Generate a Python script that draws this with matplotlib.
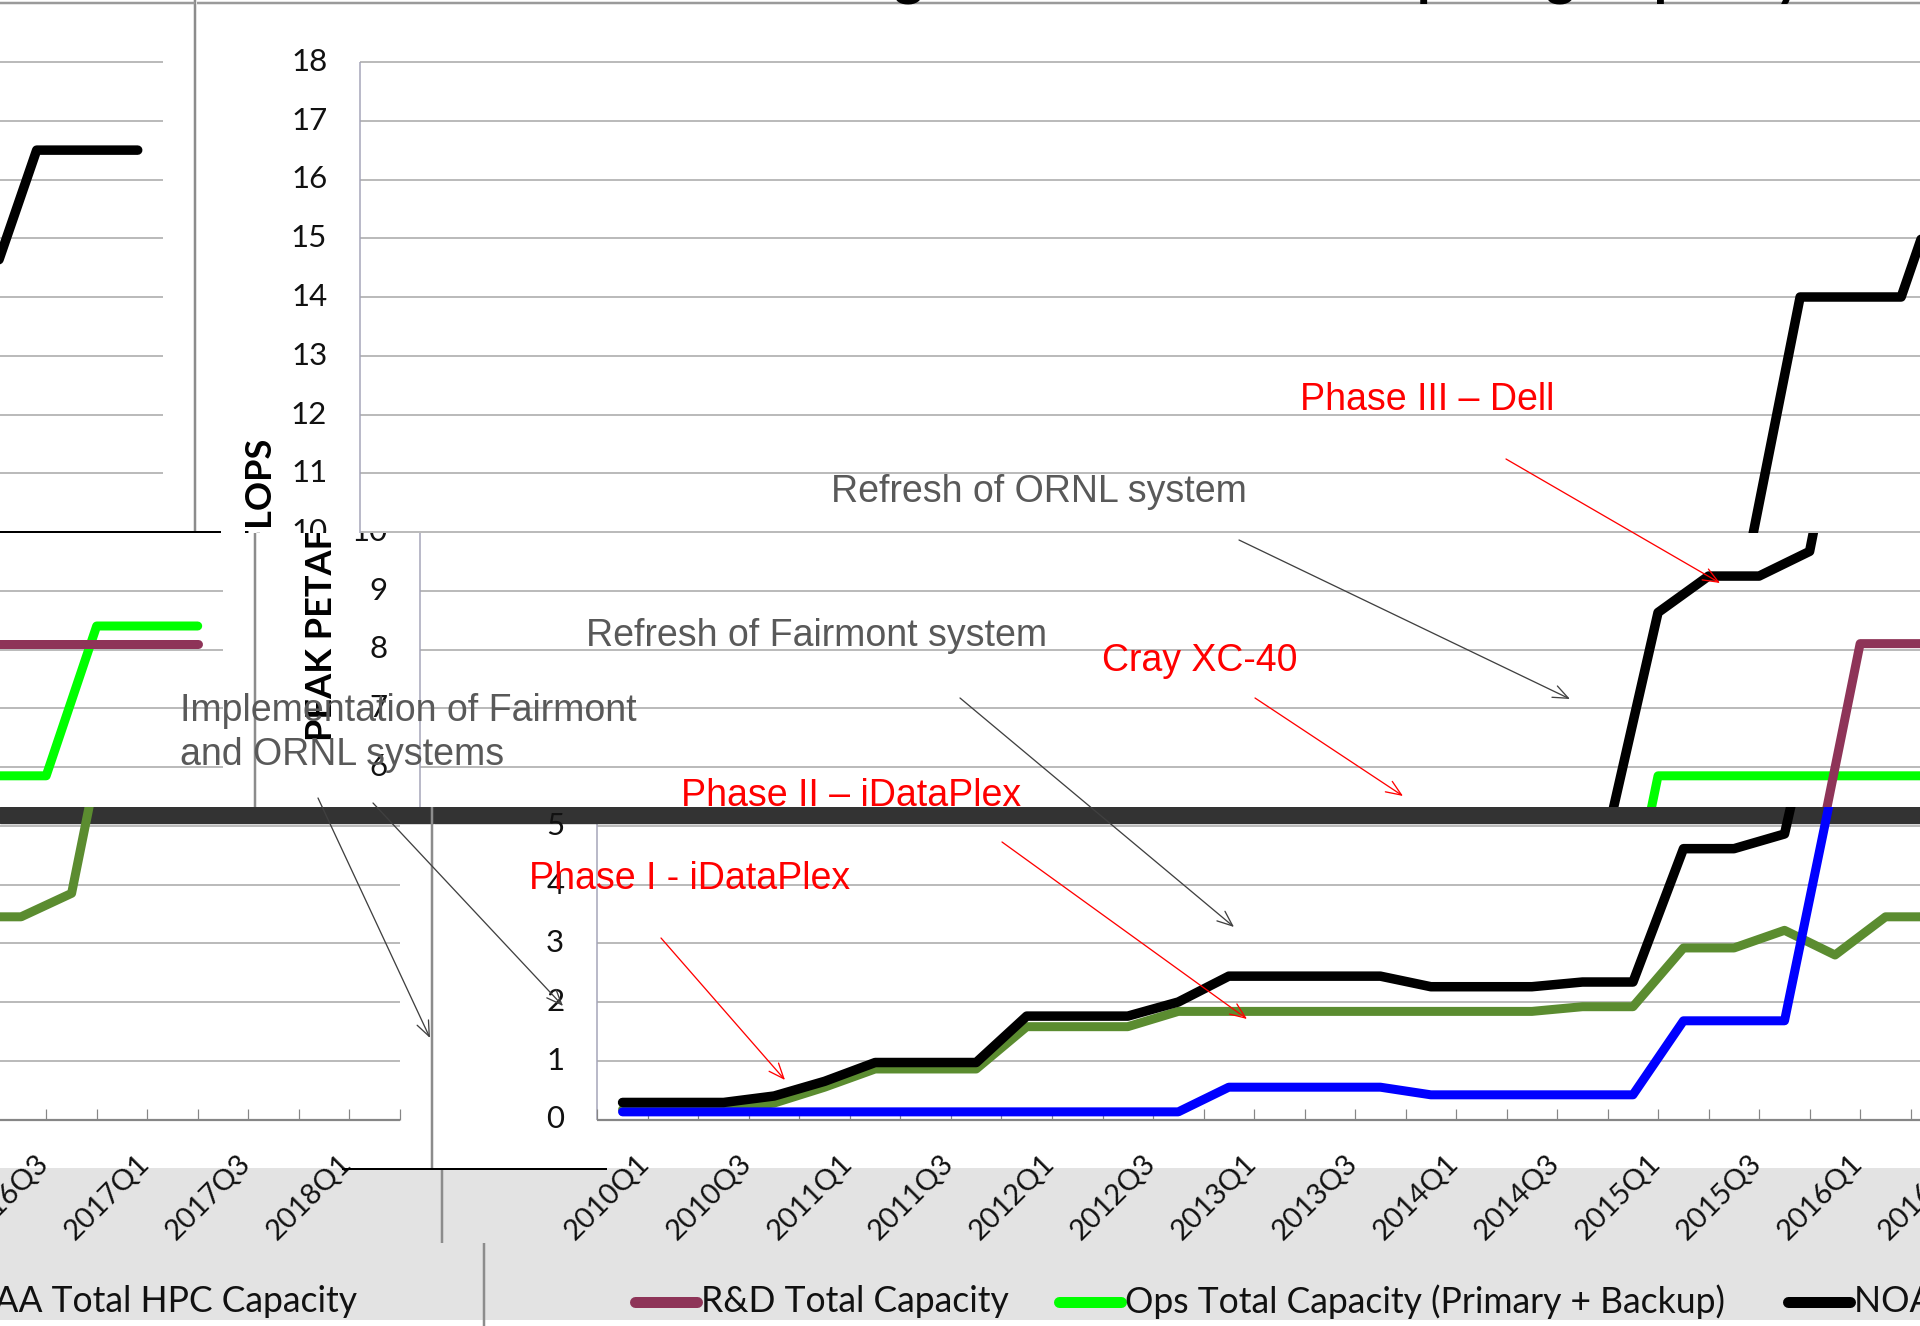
import matplotlib
matplotlib.use("Agg")
import matplotlib.pyplot as plt
from matplotlib.patches import Rectangle
import numpy as np

# quarterly capacity, peak petaflops
quarters = ["2010Q1", "2010Q2", "2010Q3", "2010Q4", "2011Q1", "2011Q2", "2011Q3", "2011Q4",
            "2012Q1", "2012Q2", "2012Q3", "2012Q4", "2013Q1", "2013Q2", "2013Q3", "2013Q4",
            "2014Q1", "2014Q2", "2014Q3", "2014Q4", "2015Q1", "2015Q2", "2015Q3", "2015Q4",
            "2016Q1", "2016Q2", "2016Q3", "2016Q4", "2017Q1", "2017Q2", "2017Q3", "2017Q4",
            "2018Q1", "2018Q2"]
noaa_total = [0.29, 0.29, 0.29, 0.40, 0.65, 0.97, 0.97, 0.97, 1.76, 1.76, 1.76, 2.00,
              2.44, 2.44, 2.44, 2.44, 2.26, 2.26, 2.26, 2.34, 2.34, 4.61, 4.61, 4.86,
              8.63, 9.25, 9.25, 9.67, 14.0, 14.0, 14.0, 16.5, 16.5, 16.5]
rd_total = [0.17, 0.17, 0.17, 0.28, 0.55, 0.86, 0.86, 0.86, 1.58, 1.58, 1.58, 1.84,
            1.84, 1.84, 1.84, 1.84, 1.84, 1.84, 1.84, 1.92, 1.92, 2.92, 2.92, 3.22,
            2.80, 3.45, 3.45, 3.85, 8.10, 8.10, 8.10, 8.10, 8.10, 8.10]
ops_total = [0.13, 0.13, 0.13, 0.13, 0.13, 0.13, 0.13, 0.13, 0.13, 0.13, 0.13, 0.13,
             0.55, 0.55, 0.55, 0.55, 0.42, 0.42, 0.42, 0.42, 0.42, 1.68, 1.68, 1.68,
             5.85, 5.85, 5.85, 5.85, 5.85, 5.85, 5.85, 8.40, 8.40, 8.40]
legend_labels = ["R&D Total Capacity", "Ops Total Capacity (Primary + Backup)",
                 "NOAA Total HPC Capacity"]

# pixel layout of the (broken, wrapped) screenshot
W, H = 1920, 1326
PX = 72 / 100            # points per pixel
STEP = 50.52             # px per quarter
N = len(quarters)
PLOT_W = N * STEP
WRAP = 1915              # rows wrap around by this many px
ZERO_Y = 1119.5
UNIT = 58.75             # px per petaflop
FONT = ["Lato", "DejaVu Sans"]

fig = plt.figure(figsize=(19.2, 13.26), dpi=100)
fig.patch.set_facecolor("white")


def q_at(x, pl):
    return (x - pl) / STEP - 0.5


def v_at(y):
    return (ZERO_Y - y) / UNIT


def piece(x0, x1, y0, y1, pl):
    x0 = max(x0, 0)
    ax = fig.add_axes([x0 / W, 1 - y1 / H, (x1 - x0) / W, (y1 - y0) / H])
    ax.set_xlim(q_at(x0, pl), q_at(x1, pl))
    ax.set_ylim(v_at(y1), v_at(y0))
    ax.axis("off")
    return ax


def copies(pl):
    # the main copy and the wrapped-around copy on the left
    split = pl - WRAP + PLOT_W + 34
    return [(split, W, pl), (0, split, pl - WRAP)]


def border(ax, pl):
    ax.axvline(q_at(pl + PLOT_W + 32, pl), color="#8c8c8c", lw=2.5 * PX, zorder=2)


def draw_chart(ax, pl, colors, order, strip=False):
    x = np.arange(N)
    data = {"rd": rd_total, "ops": ops_total, "noaa": noaa_total}
    if strip:
        ax.axhspan(v_at(823), v_at(807), color="#333333", zorder=1)
    ax.hlines(np.arange(1, 19), -0.5, N - 0.5, color="#b8b8b8", lw=1.9 * PX, zorder=0.5)
    ax.vlines(-0.5, 0, 18, color="#a4a4b8", lw=1.5 * PX, zorder=0.6)
    ax.hlines(0, -0.5, N - 0.5, color="#868686", lw=2.2 * PX, zorder=0.6)
    ax.vlines(np.arange(N + 1) - 0.5, 0, 11 / UNIT, color="#868686", lw=1.2 * PX, zorder=0.6)
    border(ax, pl)
    for i, key in enumerate(order):
        lw = 9.5 if key == "noaa" else 9
        ax.plot(x, data[key], color=colors[key], lw=lw * PX, solid_joinstyle="round",
                solid_capstyle="round", zorder=3 + i)
    for t in range(19):
        ax.text(q_at(pl - 33, pl), t, str(t), ha="right", va="center", fontsize=22.5,
                family=FONT, color="#111111", clip_on=True)
    ax.text(q_at(pl - 99, pl), v_at(590), "PEAK PETAFLOPS", rotation=90, ha="center",
            va="center", fontsize=26, fontweight="bold", family=FONT, clip_on=True)


upper_colors = {"rd": "#8E3458", "ops": "#00FF00", "noaa": "black"}
lower_colors = {"rd": "#5B8C30", "ops": "#0000FF", "noaa": "black"}

# gray strip behind tick labels and legend
fig.patches.append(Rectangle((0, 6 / H), 1, (1320 - 1168) / H, transform=fig.transFigure,
                             facecolor="#e3e3e3", edgecolor="none", zorder=-1))

# top band
for x0, x1, pl in copies(360.3):
    ax = piece(x0, x1, 0, 533, pl)
    draw_chart(ax, pl, upper_colors, ["ops", "rd", "noaa"])
    ax.hlines(v_at(3), q_at(pl - 165, pl), q_at(pl + PLOT_W + 32, pl), color="#9a9a9a",
              lw=2.5 * PX, zorder=2)
    ax.text(q_at(pl + 299, pl), v_at(-6), "NOAA High Performance Computing Capacity",
            ha="left", va="baseline", fontsize=40, fontweight="bold", family=FONT, clip_on=True)

# middle band
for x0, x1, pl in copies(420.3):
    ax = piece(x0, x1, 533, 807, pl)
    draw_chart(ax, pl, upper_colors, ["ops", "rd", "noaa"])

# bottom band (plot area bottom + dark strip)
for x0, x1, pl in copies(597.3):
    ax = piece(x0, x1, 807, 1168, pl)
    draw_chart(ax, pl, lower_colors, ["rd", "ops", "noaa"], strip=True)

# tick labels band
for x0, x1, pl in copies(607.3):
    ax = piece(x0, x1, 1168, 1243, pl)
    border(ax, pl)
    for q in range(0, N, 2):
        ax.text(q + 0.08, v_at(1150), quarters[q], rotation=45, rotation_mode="anchor",
                ha="right", va="top", fontsize=21, family=FONT, color="#111111")

# legend band
legend_x = [-14.3, 409.7, 1138.7]
legend_colors = ["#8E3458", "#00FF00", "black"]
for x0, x1, pl in copies(649.3):
    ax = piece(x0, x1, 1243, 1326, pl)
    border(ax, pl)
    for lab, lx, col in zip(legend_labels, legend_x, legend_colors):
        ax.plot([q_at(pl + lx, pl), q_at(pl + lx + 62, pl)], [v_at(1302)] * 2, color=col,
                lw=11 * PX, solid_capstyle="round", zorder=3)
        ax.text(q_at(pl + lx + 66, pl), v_at(1302), lab, ha="left", va="center",
                fontsize=25.6, family=FONT, color="#111111", clip_on=True)

# annotations sit on top, in screen pixels
ov = fig.add_axes([0, 0, 1, 1])
ov.set_xlim(0, W)
ov.set_ylim(H, 0)
ov.axis("off")
ov.plot([0, 220], [532, 532], color="black", lw=2 * PX)
ov.plot([343, 606], [1169, 1169], color="black", lw=2 * PX)

gray_txt = "#595959"
notes = [
    ("Refresh of ORNL system", 831, 492, gray_txt),
    ("Refresh of Fairmont system", 586, 636, gray_txt),
    ("Implementation of Fairmont\nand ORNL systems", 180, 733, gray_txt),
    ("Phase III \u2013 Dell", 1300, 400, "red"),
    ("Cray XC-40", 1102, 661, "red"),
    ("Phase II \u2013 iDataPlex", 681, 796, "red"),
    ("Phase I - iDataPlex", 529, 879, "red"),
]
for txt, tx, ty, col in notes:
    ov.text(tx, ty, txt, ha="left", va="center", fontsize=27, color=col,
            family=["Liberation Sans", "DejaVu Sans"], linespacing=1.3)

arrows = [
    ((1239, 540), (1570, 699), "#404040"),
    ((960, 698), (1234, 927), "#404040"),
    ((318, 798), (430, 1038), "#404040"),
    ((373, 803), (563, 1006), "#404040"),
    ((1506, 459), (1720, 583), "red"),
    ((1255, 698), (1403, 796), "red"),
    ((1002, 842), (1247, 1019), "red"),
    ((661, 938), (785, 1080), "red"),
]
for start, end, col in arrows:
    ov.annotate("", xy=end, xytext=start,
                arrowprops=dict(arrowstyle="->,head_length=1.1,head_width=0.45", color=col,
                                lw=1.3 * PX, shrinkA=0, shrinkB=0))

fig.savefig("out.png", dpi=100, facecolor="white")
